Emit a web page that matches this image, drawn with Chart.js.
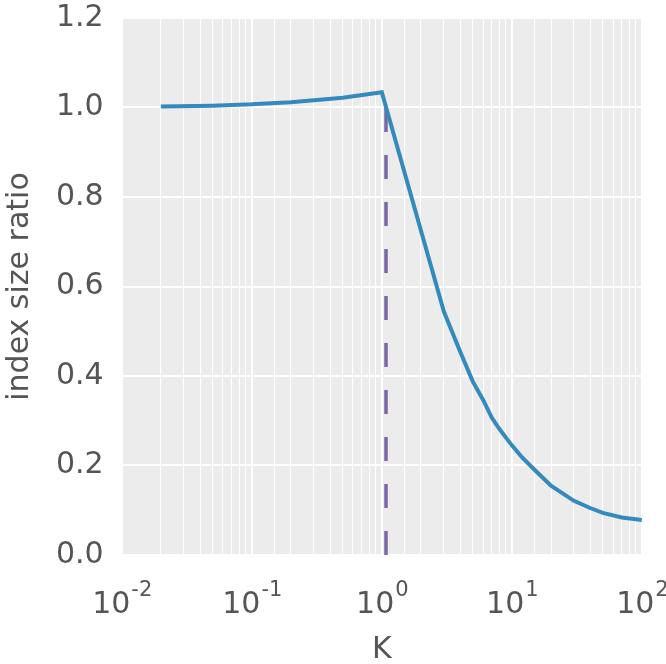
<!DOCTYPE html>
<html>
<head>
<meta charset="utf-8">
<script src="https://cdn.jsdelivr.net/npm/chart.js@4/dist/chart.umd.min.js"></script>
<style>
  html, body { margin: 0; padding: 0; background: #fff; }
  #wrap { width: 666px; height: 664px; }
</style>
</head>
<body>
<div id="wrap"><canvas id="chart"></canvas></div>
<script>
// values
const kValues = [0.02, 0.05, 0.1, 0.2, 0.5, 1, 3, 4, 5, 6, 7, 8, 10, 12, 15, 20, 30, 40, 50, 70, 100];
const ratioValues = [1.002, 1.004, 1.007, 1.012, 1.022, 1.034, 0.544, 0.455, 0.388, 0.347, 0.307, 0.282, 0.245, 0.218, 0.19, 0.155, 0.121, 0.105, 0.094, 0.084, 0.078];
const cutoffK = 1.077;
const cutoffY = [0, 1.0];
const xExponents = [-2, -1, 0, 1, 2];
const yTicks = [0, 0.2, 0.4, 0.6, 0.8, 1.0, 1.2];

const grey = '#555555';
const font = { family: 'DejaVu Sans', size: 30 };

const bgPlugin = {
  id: 'bg',
  beforeDraw(chart) {
    const a = chart.chartArea, c = chart.ctx;
    c.save();
    c.fillStyle = '#ECECEC';
    c.fillRect(a.left, a.top, a.right - a.left, a.bottom - a.top);
    c.restore();
  }
};

// x tick labels as 10 with a raised exponent, like the original
const powLabels = {
  id: 'powLabels',
  afterDraw(chart) {
    const c = chart.ctx, sx = chart.scales.x, base = chart.chartArea.bottom + 58;
    c.save();
    c.fillStyle = grey;
    c.textBaseline = 'alphabetic';
    c.textAlign = 'left';
    xExponents.forEach(e => {
      const px = sx.getPixelForValue(Math.pow(10, e));
      const expTxt = String(e);
      c.font = '30px "DejaVu Sans"';
      const w1 = c.measureText('10').width;
      c.font = '21px "DejaVu Sans"';
      const w2 = c.measureText(expTxt).width;
      const x0 = px - (w1 + w2) / 2;
      c.font = '30px "DejaVu Sans"';
      c.fillText('10', x0, base);
      c.font = '21px "DejaVu Sans"';
      c.fillText(expTxt, x0 + w1 + 1, base - 17);
    });
    c.restore();
  }
};

function isPow10(v) {
  const l = Math.log10(v);
  return Math.abs(l - Math.round(l)) < 1e-9;
}

new Chart(document.getElementById('chart'), {
  type: 'line',
  data: {
    datasets: [
      {
        data: kValues.map((k, i) => ({ x: k, y: ratioValues[i] })),
        borderColor: '#348ABD',
        borderWidth: 4,
        pointRadius: 0,
        tension: 0,
        fill: false
      },
      {
        data: cutoffY.map(y => ({ x: cutoffK, y: y })),
        borderColor: '#7A68A6',
        borderWidth: 3.5,
        borderDash: [24, 23],
        pointRadius: 0,
        fill: false
      }
    ]
  },
  options: {
    responsive: true,
    maintainAspectRatio: false,
    animation: false,
    layout: { padding: { top: 0, right: 0, left: 2, bottom: 0 } },
    plugins: { legend: { display: false }, tooltip: { enabled: false } },
    scales: {
      x: {
        type: 'logarithmic',
        min: 0.01,
        max: 100,
        border: { display: false },
        grid: {
          color: '#FFFFFF',
          lineWidth: ctx => (ctx.tick && isPow10(ctx.tick.value)) ? 2 : 1,
          drawTicks: false
        },
        ticks: {
          autoSkip: false,
          maxRotation: 0,
          color: 'rgba(0,0,0,0)',
          font: { family: 'DejaVu Sans', size: 30, lineHeight: 2.37 },
          padding: 5,
          callback: v => isPow10(v) ? '10' : ''
        },
        title: {
          display: true, text: 'K', color: grey,
          font: { family: 'DejaVu Sans', size: 30, lineHeight: 0.93 },
          padding: { top: 0, bottom: 0 }
        }
      },
      y: {
        min: 0,
        max: 1.2,
        border: { display: false },
        grid: { color: '#FFFFFF', lineWidth: 2, drawTicks: false },
        afterBuildTicks: s => { s.ticks = yTicks.map(v => ({ value: v })); },
        ticks: {
          color: grey,
          font: { family: 'DejaVu Sans', size: 30, lineHeight: 0 },
          padding: 18,
          callback: v => Number(v).toFixed(1)
        },
        title: { display: true, text: 'index size ratio', color: grey, font: font, padding: { top: 0, bottom: 0 } }
      }
    }
  },
  plugins: [bgPlugin, powLabels]
});
</script>
</body>
</html>
